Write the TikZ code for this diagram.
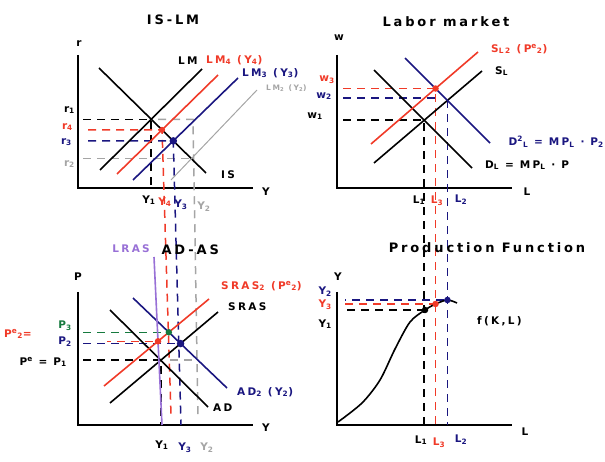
\documentclass[tikz,border=0pt]{standalone}
\usepackage{fontspec}
\setmainfont[LetterSpace=22]{DejaVu Sans}

\definecolor{myred}{RGB}{240,58,40}
\definecolor{navy}{RGB}{26,22,128}
\definecolor{lgray}{RGB}{165,165,165}
\definecolor{dgreen}{RGB}{22,122,62}
\definecolor{lras}{RGB}{152,112,214}

\newcommand{\lsub}[1]{\textsubscript{#1}}
\newcommand{\lsup}[1]{\textsuperscript{#1}}

\tikzset{
  axis/.style={line width=2.2pt},
  curve/.style={line width=1.6pt},
  guide/.style={line width=1.5pt, dash pattern=on 8pt off 6pt},
  dot/.style={circle, fill, inner sep=0pt, minimum size=6.5pt},
  title/.style={font=\fontsize{13}{15}\selectfont\bfseries},
  lbl/.style={font=\fontsize{10.5}{12}\selectfont\bfseries, inner sep=1pt},
}

\begin{document}
\begin{tikzpicture}[x=1pt,y=-1pt]

    \useasboundingbox (0,0) rectangle (605,462);

% Ejes
	\foreach \x/\y in {78/55, 337/55, 78/292, 337/292}
		\draw[axis] (\x,\y) -- ++(0,133) -- ++(175,0);

	\coordinate (O1) at (78,188);
	\coordinate (O2) at (337,188);
	\coordinate (O3) at (78,425);
	\coordinate (O4) at (337,425);

% IS-LM
	\coordinate (IS1) at (99,68);   \coordinate (IS2) at (206,173);
	\coordinate (LM1) at (100,170); \coordinate (LM2) at (202,69);
	\coordinate (LMr1) at (117,174); \coordinate (LMr2) at (218,75);
	\coordinate (LMn1) at (133,180); \coordinate (LMn2) at (238,78);
	\coordinate (LMg1) at (171,180); \coordinate (LMg2) at (257,90);

	\coordinate (E1) at (intersection of IS1--IS2 and LM1--LM2);
	\coordinate (E4) at (intersection of IS1--IS2 and LMr1--LMr2);
	\coordinate (E3) at (intersection of IS1--IS2 and LMn1--LMn2);
	\coordinate (E2) at (intersection of IS1--IS2 and LMg1--LMg2);

	\draw[guide] (83,0 |- E1) -- (E1) -- (E1 |- O1);
	\draw[guide, lgray] (158,0 |- E1) -- (193,0 |- E1) -- (198,417);
	\draw[guide, lgray] (83,0 |- E2) -- (E2);
	\draw[guide, myred] (88,0 |- E4) -- (E4) -- (171,415);
	\draw[guide, navy] (88,0 |- E3) -- (E3) -- (181,425);

	\draw[curve] (IS1) -- (IS2);
	\draw[curve] (LM1) -- (LM2);
	\draw[curve, myred] (LMr1) -- (LMr2);
	\draw[curve, navy] (LMn1) -- (LMn2);
	\draw[curve, lgray, line width=1pt] (LMg1) -- (LMg2);

	\node[dot, myred, minimum size=6pt] (e4) at (E4) {};
	\node[dot, navy, minimum size=7.5pt] (e3) at (E3) {};

	\node[title] (tislm) at (173,20) {IS-LM};
	\node[lbl] (ar) at (79,44) {r};
	\node[lbl] (aY1) at (266,192) {Y};
	\node[lbl, anchor=west] (lLM) at (177,61) {LM};
	\node[lbl, anchor=west] (lIS) at (220,175) {IS};
	\node[lbl, myred, anchor=west] (lLM4) at (205,60) {LM\lsub{4} (Y\lsub{4})};
	\node[lbl, navy, anchor=west] (lLM3) at (241,73) {LM\lsub{3} (Y\lsub{3})};
	\node[lbl, lgray, anchor=west, font=\fontsize{7.5}{9}\selectfont\bfseries] (lLM2) at (265,88) {LM\lsub{2} (Y\lsub{2})};
	\node[lbl, anchor=east] (r1) at (76,110) {r\lsub{1}};
	\node[lbl, myred, anchor=east] (r4) at (74,127) {r\lsub{4}};
	\node[lbl, navy, anchor=east] (r3) at (73,142) {r\lsub{3}};
	\node[lbl, lgray, anchor=east] (r2) at (76,164) {r\lsub{2}};
	\node[lbl] (y1a) at (149,200) {Y\lsub{1}};
	\node[lbl, myred] (y4a) at (165,202) {Y\lsub{4}};
	\node[lbl, navy] (y3a) at (181,205) {Y\lsub{3}};
	\node[lbl, lgray] (y2a) at (204,207) {Y\lsub{2}};

% Labor market
	\coordinate (SL1) at (374,163);  \coordinate (SL2) at (482,71);
	\coordinate (DL1) at (374,70);   \coordinate (DL2) at (472,168);
	\coordinate (SLr1) at (371,144); \coordinate (SLr2) at (478,52);
	\coordinate (DLn1) at (405,58);  \coordinate (DLn2) at (490,143);

	\coordinate (W1) at (intersection of SL1--SL2 and DL1--DL2);
	\coordinate (W3) at (intersection of SLr1--SLr2 and DLn1--DLn2);
	\coordinate (W2) at (intersection of SL1--SL2 and DLn1--DLn2);

	\draw[guide] (343,0 |- W1) -- (W1) -- (W1 |- O4);
	\draw[guide, navy] (343,98) -- (437,98);
	\draw[guide, navy] (W2) -- (W2 |- O4);
	\draw[guide, myred] (343,0 |- W3) -- (W3) -- (W3 |- O4);

	\draw[curve] (SL1) -- (SL2);
	\draw[curve] (DL1) -- (DL2);
	\draw[curve, myred] (SLr1) -- (SLr2);
	\draw[curve, navy] (DLn1) -- (DLn2);

	\node[dot, myred] (w3) at (W3) {};

	\node[title] (tlab) at (446,22) {Labor market};
	\node[lbl] (aw) at (339,38) {w};
	\node[lbl] (aL1) at (527,192) {L};
	\node[lbl, anchor=west] (lSL) at (494,71) {S\lsub{L}};
	\node[lbl, anchor=west] (lDL) at (484,165) {D\lsub{L} = MP\lsub{L} · P};
	\node[lbl, myred, anchor=west] (lSL2) at (490,49) {S\lsub{L2} (P\lsup{e}\lsub{2})};
	\node[lbl, navy, anchor=east] (lDL2) at (605,142) {D\lsup{2}\lsub{L} = MP\lsub{L} · P\lsub{2}};
	\node[lbl, myred, anchor=east] (lw3) at (336,80) {w\lsub{3}};
	\node[lbl, navy, anchor=east] (lw2) at (333,96) {w\lsub{2}};
	\node[lbl, anchor=east] (lw1) at (324,116) {w\lsub{1}};
	\node[lbl] (l1a) at (419,200) {L\lsub{1}};
	\node[lbl, myred] (l3a) at (437,201) {L\lsub{3}};
	\node[lbl, navy] (l2a) at (461,200) {L\lsub{2}};

% AD-AS
	\coordinate (AD1) at (110,310);  \coordinate (AD2) at (208,407);
	\coordinate (SR1) at (110,403);  \coordinate (SR2) at (218,312);
	\coordinate (SRr1) at (104,386); \coordinate (SRr2) at (209,299);
	\coordinate (ADn1) at (133,298); \coordinate (ADn2) at (227,388);
	\coordinate (LR1) at (154,257);  \coordinate (LR2) at (162,425);

	\coordinate (A1) at (intersection of AD1--AD2 and SR1--SR2);
	\coordinate (A3) at (intersection of SRr1--SRr2 and ADn1--ADn2);
	\coordinate (A2) at (intersection of ADn1--ADn2 and SR1--SR2);
	\coordinate (A4) at (intersection of SRr1--SRr2 and LR1--LR2);

	\draw[guide, dgreen] (83,0 |- A3) -- (A3);
	\draw[guide, navy] (83,0 |- A2) -- (A2);
	\draw[guide, myred, dash phase=4pt] (107,0 |- A4) -- (A4);
	\draw[guide] (83,0 |- A1) -- (A1) -- (A1 |- O3);
	\draw[guide, lgray] (170,0 |- A1) -- (198,0 |- A1);

	\draw[curve] (AD1) -- (AD2);
	\draw[curve] (SR1) -- (SR2);
	\draw[curve, myred] (SRr1) -- (SRr2);
	\draw[curve, navy] (ADn1) -- (ADn2);
	\draw[curve, lras] (LR1) -- (LR2);

	\node[dot, myred] (a4) at (A4) {};
	\node[dot, dgreen] (a3) at (A3) {};
	\node[dot, navy, minimum size=7.5pt] (a2) at (A2) {};

	\node[title, anchor=west] (tadas) at (158,250) {AD-AS};
	\node[lbl, lras, anchor=east] (lLRAS) at (151,249) {LRAS};
	\node[lbl] (aP) at (78,277) {P};
	\node[lbl] (aY3) at (266,428) {Y};
	\node[lbl, anchor=west] (lSRAS) at (227,307) {SRAS};
	\node[lbl, myred, anchor=west] (lSRAS2) at (220,286) {SRAS\lsub{2} (P\lsup{e}\lsub{2})};
	\node[lbl, anchor=west] (lAD) at (212,408) {AD};
	\node[lbl, navy, anchor=west] (lAD2) at (236,392) {AD\lsub{2} (Y\lsub{2})};
	\node[lbl, dgreen, anchor=east] (p3) at (73,326) {P\lsub{3}};
	\node[lbl, navy, anchor=east] (p2) at (73,342) {P\lsub{2}};
	\node[lbl, myred, anchor=west] (p2e) at (3,334) {P\lsup{e}\lsub{2}=};
	\node[lbl, anchor=east] (pe) at (68,362) {P\lsup{e} = P\lsub{1}};
	\node[lbl] (y1b) at (162,445) {Y\lsub{1}};
	\node[lbl, navy] (y3b) at (185,448) {Y\lsub{3}};
	\node[lbl, lgray] (y2b) at (207,448) {Y\lsub{2}};

% Production function
	\coordinate (F1) at (425,310);
	\coordinate (F3) at (W3 |- 0,304);
	\coordinate (F2) at (W2 |- 0,300);

	\draw[guide] (347,0 |- F1) -- (F1);
	\draw[guide, myred] (345,0 |- F3) -- (F3);
	\draw[guide, navy, dash phase=7pt] (345,0 |- F2) -- (F2);

	\draw[curve] plot[smooth] coordinates {(338,422) (362,403) (380,380) (395,349) (410,322) (F1) (F3) (F2) (457,303)};

	\node[dot] (f1) at (F1) {};
	\node[dot, myred] (f3) at (F3) {};
	\node[dot, navy] (f2) at (F2) {};

	\node[title] (tprod) at (487,248) {Production Function};
	\node[lbl] (aY4) at (338,277) {Y};
	\node[lbl] (aL2) at (525,432) {L};
	\node[lbl, anchor=west] (lf) at (476,321) {f(K,L)};
	\node[lbl, navy, anchor=east] (ly2) at (333,292) {Y\lsub{2}};
	\node[lbl, myred, anchor=east] (ly3) at (333,305) {Y\lsub{3}};
	\node[lbl, anchor=east] (ly1) at (333,324) {Y\lsub{1}};
	\node[lbl] (l1b) at (421,440) {L\lsub{1}};
	\node[lbl, myred] (l3b) at (439,443) {L\lsub{3}};
	\node[lbl, navy] (l2b) at (461,440) {L\lsub{2}};
\end{tikzpicture}
\end{document}
